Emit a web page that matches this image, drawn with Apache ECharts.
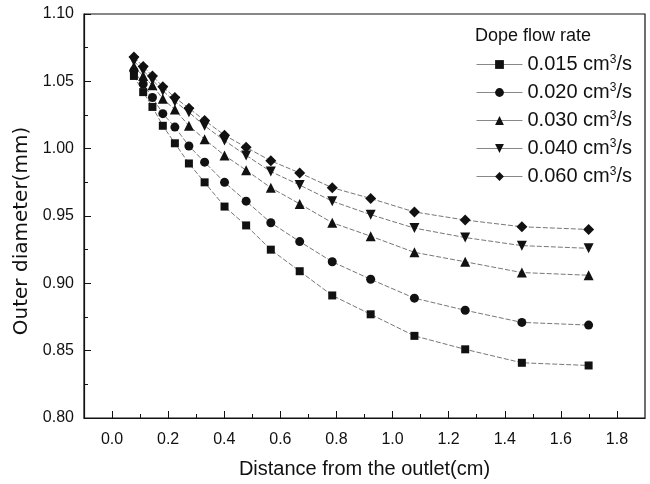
<!DOCTYPE html>
<html>
<head>
<meta charset="utf-8">
<script src="https://cdn.jsdelivr.net/npm/echarts@6/dist/echarts.min.js"></script>
<style>html,body{margin:0;padding:0;background:#fff}#c{width:650px;height:484px}</style>
</head>
<body>
<div id="c"></div>
<script>
const distance = [0.078, 0.111, 0.144, 0.181, 0.224, 0.274, 0.330, 0.401, 0.478, 0.566, 0.669, 0.785, 0.922, 1.078, 1.259, 1.461, 1.699];
const flowRates = ['0.015', '0.020', '0.030', '0.040', '0.060'];
const d015 = [1.054, 1.042, 1.031, 1.017, 1.004, 0.989, 0.975, 0.957, 0.943, 0.925, 0.909, 0.891, 0.877, 0.861, 0.851, 0.841, 0.839];
const d020 = [1.058, 1.048, 1.038, 1.026, 1.016, 1.002, 0.990, 0.975, 0.961, 0.945, 0.931, 0.916, 0.903, 0.889, 0.880, 0.871, 0.869];
const d030 = [1.061, 1.054, 1.047, 1.037, 1.029, 1.017, 1.007, 0.995, 0.984, 0.971, 0.959, 0.945, 0.935, 0.923, 0.916, 0.908, 0.906];
const d040 = [1.065, 1.058, 1.051, 1.043, 1.035, 1.027, 1.017, 1.006, 0.995, 0.983, 0.973, 0.961, 0.951, 0.941, 0.934, 0.928, 0.926];
const d060 = [1.068, 1.061, 1.054, 1.046, 1.038, 1.030, 1.021, 1.010, 1.001, 0.991, 0.982, 0.971, 0.963, 0.953, 0.947, 0.942, 0.940];
const seriesValues = [d015, d020, d030, d040, d060];
const xTickValues = [0.0, 0.2, 0.4, 0.6, 0.8, 1.0, 1.2, 1.4, 1.6, 1.8];
const xTickLabels = ['0.0', '0.2', '0.4', '0.6', '0.8', '1.0', '1.2', '1.4', '1.6', '1.8'];
const xMinorTicks = [0.1, 0.3, 0.5, 0.7, 0.9, 1.1, 1.3, 1.5, 1.7];
const yTickLabels = ['0.80', '0.85', '0.90', '0.95', '1.00', '1.05', '1.10'];

const symbols = ['rect', 'circle', 'triangle', 'triangle', 'diamond'];
const symbolSizes = [8, 9, 10, 10, 11];
const symbolRotates = [0, 0, 0, 180, 0];
const FONT = 'Liberation Sans, Arial, sans-serif';

const chart = echarts.init(document.getElementById('c'), null, {renderer: 'canvas'});
const series = flowRates.map((r, i) => ({
  name: r + ' cm³/s',
  type: 'line',
  xAxisIndex: 0,
  yAxisIndex: 0,
  data: distance.map((x, j) => [x, seriesValues[i][j]]),
  symbol: symbols[i],
  symbolSize: symbolSizes[i],
  symbolRotate: symbolRotates[i],
  showSymbol: true,
  itemStyle: {color: '#111'},
  lineStyle: {color: '#777', width: 1, type: [5, 2]},
  emphasis: {disabled: true},
  animation: false,
  z: 3
}));

chart.setOption({
  animation: false,
  backgroundColor: '#fff',
  title: {
    text: 'Dope flow rate',
    left: 470, top: 22,
    textStyle: {fontFamily: FONT, fontSize: 18, fontWeight: 'normal', color: '#111'}
  },
  legend: {
    orient: 'vertical',
    left: 471, top: 49,
    itemWidth: 46, itemHeight: 11,
    itemGap: 7,
    selectedMode: false,
    lineStyle: {type: 'solid', color: '#888', width: 1},
    formatter: name => {
      const parts = name.split('³');
      return '{t|' + parts[0] + '}{s|3}{t|' + parts[1] + '}';
    },
    textStyle: {
      fontFamily: FONT, color: '#111', fontSize: 20, lineHeight: 21,
      rich: {
        t: {fontFamily: FONT, fontSize: 20, color: '#111', lineHeight: 21},
        s: {fontFamily: FONT, fontSize: 12, color: '#111', verticalAlign: 'top', lineHeight: 21, padding: [0, 0, 8, 0]}
      }
    },
    data: flowRates.map(r => r + ' cm³/s')
  },
  grid: {left: 84, top: 14, right: 5, bottom: 60, show: true, borderColor: '#111', borderWidth: 1.2, containLabel: false},
  xAxis: [{
    type: 'value', min: -0.1, max: 1.9,
    name: 'Distance from the outlet(cm)', nameLocation: 'middle', nameGap: 41,
    nameTextStyle: {fontFamily: FONT, fontSize: 20, color: '#111'},
    axisLine: {show: true, onZero: false, lineStyle: {color: '#111', width: 1.2}},
    axisTick: {show: true, inside: true, length: 7, customValues: xTickValues, lineStyle: {color: '#111', width: 1}},
    axisLabel: {show: true, margin: 14, customValues: xTickValues, fontFamily: FONT, fontSize: 16, color: '#111',
      formatter: v => xTickLabels[xTickValues.findIndex(t => Math.abs(t - v) < 1e-6)]},
    splitLine: {show: false}
  }, {
    type: 'value', min: -0.1, max: 1.9, position: 'bottom',
    axisLine: {show: false, onZero: false},
    axisTick: {show: true, inside: true, length: 4, customValues: xMinorTicks, lineStyle: {color: '#111', width: 1}},
    axisLabel: {show: false},
    splitLine: {show: false}
  }],
  yAxis: [{
    type: 'value', min: 0.8, max: 1.1, interval: 0.05,
    name: 'Outer diameter(mm)', nameLocation: 'middle', nameGap: 52,
    nameTextStyle: {fontFamily: 'DejaVu Sans, sans-serif', fontSize: 20, color: '#111', padding: [0, 30, 0, 0]},
    axisLine: {show: true, onZero: false, lineStyle: {color: '#111', width: 1.2}},
    axisTick: {show: true, inside: true, length: 7, lineStyle: {color: '#111', width: 1}},
    minorTick: {show: true, splitNumber: 2, length: 4, lineStyle: {color: '#111', width: 1}},
    axisLabel: {margin: 10, fontFamily: FONT, fontSize: 16, color: '#111',
      formatter: v => yTickLabels[Math.round((v - 0.8) / 0.05)]},
    splitLine: {show: false},
    minorSplitLine: {show: false}
  }],
  series: series
});
</script>
</body>
</html>
